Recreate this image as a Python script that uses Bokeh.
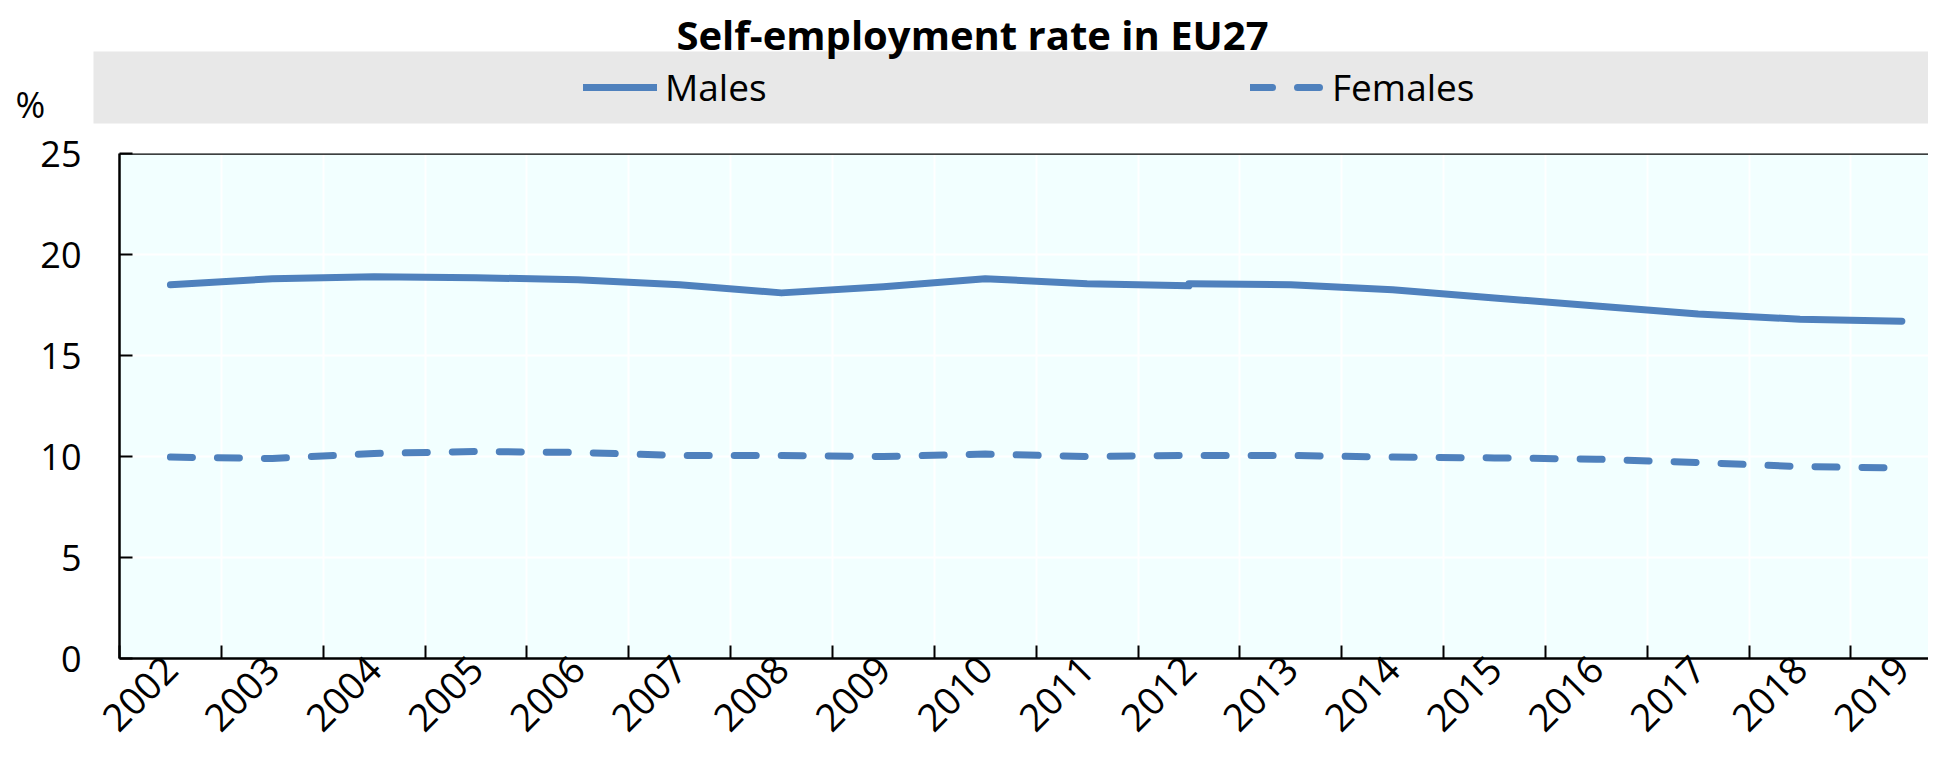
import math
from bokeh.plotting import figure
from bokeh.layouts import column
from bokeh.models import (Range1d, FixedTicker, Legend, LegendItem, Label,
                          BoxAnnotation, Span, ColumnDataSource)
from bokeh.embed import file_html
from bokeh.resources import INLINE

# ---- data -------------------------------------------------------------
years = ["2002", "2003", "2004", "2005", "2006", "2007", "2008", "2009", "2010",
         "2011", "2012", "2013", "2014", "2015", "2016", "2017", "2018", "2019"]
# series break in 2012 for males
males_years_a = years[:11]
males_a = [18.5, 18.8, 18.9, 18.85, 18.75, 18.5, 18.1, 18.4, 18.8, 18.55, 18.45]
males_years_b = years[10:]
males_b = [18.55, 18.5, 18.25, 17.85, 17.45, 17.05, 16.8, 16.7]
females = [9.97, 9.9, 10.15, 10.25, 10.2, 10.05, 10.05, 10.0, 10.12, 10.0,
           10.05, 10.05, 9.97, 9.93, 9.87, 9.7, 9.5, 9.43]
y_ticks = [0, 5, 10, 15, 20, 25]
title_text = "Self-employment rate in EU27"
unit_text = "%"
series_names = ["Males", "Females"]

BLUE = "#4F81BD"
FONT = "Open Sans"
W = 1928
HEAD_H = 129
MAIN_H = 617

pos = {y: i + 0.5 for i, y in enumerate(years)}
centers = [pos[y] for y in years]
bounds = [float(i) for i in range(len(years) + 1)]

src_a = ColumnDataSource(dict(x=[pos[y] for y in males_years_a], y=males_a))
src_b = ColumnDataSource(dict(x=[pos[y] for y in males_years_b], y=males_b))
src_f = ColumnDataSource(dict(x=centers, y=females))

solid = dict(line_color=BLUE, line_width=7, line_cap="round", line_join="round")
dashed = dict(solid, line_dash="22 25")

# ---- header (title, legend band) ---------------------------------------
h = figure(width=W, height=HEAD_H, output_backend="svg", toolbar_location=None,
           x_range=Range1d(0, W), y_range=Range1d(0, HEAD_H),
           x_axis_type=None, y_axis_type=None,
           min_border_left=0, min_border_right=0, min_border_top=0,
           min_border_bottom=0)
h.frame_align = False
h.outline_line_color = None
h.grid.visible = False
h.background_fill_color = "white"
h.border_fill_color = "white"

h.add_layout(BoxAnnotation(left=93, right=W, bottom=6, top=78,
                           fill_color="#E8E8E8", fill_alpha=1.0, line_color=None,
                           level="underlay"))
# legend proxies (hidden; only their styling is used by the legend)
lm = h.line("x", "y", source=src_a, visible=False, **solid)
lf = h.line("x", "y", source=src_f, visible=False, **dashed)
legend = Legend(items=[LegendItem(label=series_names[0], renderers=[lm]),
                       LegendItem(label=series_names[1], renderers=[lf])],
                orientation="horizontal", location=(583, 17),
                padding=0, margin=0, spacing=0, glyph_width=74, glyph_height=40,
                label_height=40, label_width=585, label_standoff=8,
                label_text_font=FONT, label_text_font_size="37px",
                label_text_color="black", label_text_baseline="middle",
                background_fill_alpha=0, border_line_color=None,
                inactive_fill_alpha=0, click_policy="none")
h.add_layout(legend, "center")
h.add_layout(Label(x=972, y=95, text=title_text, text_align="center",
                   text_baseline="alphabetic", text_font=FONT,
                   text_font_style="bold", text_font_size="40px",
                   text_color="black"))
h.add_layout(Label(x=15, y=25, text=unit_text, text_align="left",
                   text_baseline="alphabetic", text_font=FONT,
                   text_font_size="36px", text_color="black"))

# ---- main chart ----------------------------------------------------------
p = figure(width=W, height=MAIN_H, output_backend="svg", toolbar_location=None,
           x_range=Range1d(0, (W - 119) / 101.85), y_range=Range1d(0, 25),
           min_border_left=119, min_border_right=0, min_border_top=24,
           min_border_bottom=88)
p.frame_align = False
p.background_fill_color = "#F2FFFF"
p.border_fill_color = "white"
p.outline_line_color = None

r_a = p.line("x", "y", source=src_a, **solid)
r_b = p.line("x", "y", source=src_b, **solid)
r_f = p.line("x", "y", source=src_f, **dashed)

xa = p.xaxis[0]
xa.ticker = FixedTicker(ticks=centers, minor_ticks=bounds)
xa.major_label_overrides = {c: y for c, y in zip(centers, years)}
xa.major_tick_line_color = None
xa.major_tick_in = 0
xa.major_tick_out = 0
xa.minor_tick_in = 13
xa.minor_tick_out = 0
xa.minor_tick_line_width = 2
xa.minor_tick_line_color = "black"
xa.major_label_orientation = math.pi / 4
xa.major_label_standoff = 4
xa.major_label_text_font = FONT
xa.major_label_text_font_size = "38px"
xa.major_label_text_line_height = 0.8
xa.major_label_text_color = "black"
xa.axis_line_width = 2.5
xa.axis_line_color = "black"

ya = p.yaxis[0]
ya.ticker = FixedTicker(ticks=y_ticks)
ya.minor_tick_line_color = None
ya.major_tick_in = 13
ya.major_tick_out = 0
ya.major_tick_line_width = 2
ya.major_tick_line_color = "black"
ya.major_label_standoff = 38
ya.major_label_text_font = FONT
ya.major_label_text_font_size = "36px"
ya.major_label_text_color = "black"
ya.axis_line_width = 2.5
ya.axis_line_color = "black"

p.xgrid.ticker = FixedTicker(ticks=bounds[1:-1])
p.xgrid.grid_line_color = "white"
p.xgrid.grid_line_width = 2
p.ygrid.ticker = FixedTicker(ticks=y_ticks[1:-1])
p.ygrid.grid_line_color = "white"
p.ygrid.grid_line_width = 2

p.add_layout(Span(location=25, dimension="width", line_color="black",
                  line_width=2.5))

layout = column(h, p, spacing=0)
open("out.html", "w").write(file_html(layout, INLINE))
